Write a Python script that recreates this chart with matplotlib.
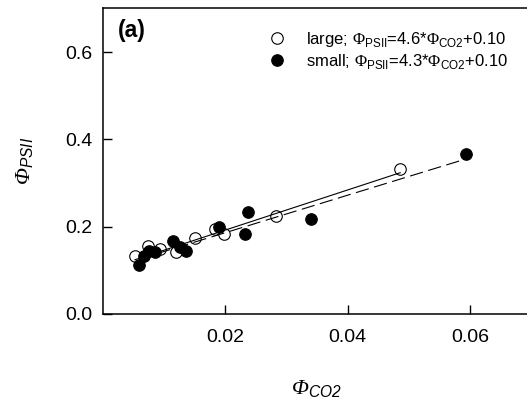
import numpy as np
import matplotlib
matplotlib.use("Agg")
import matplotlib.pyplot as plt
from matplotlib.lines import Line2D

plt.rcParams['font.family'] = ['Liberation Sans', 'DejaVu Sans']
plt.rcParams['mathtext.fontset'] = 'custom'
plt.rcParams['mathtext.rm'] = 'Liberation Serif'
plt.rcParams['mathtext.sf'] = 'Liberation Sans'
plt.rcParams['mathtext.cal'] = 'Liberation Serif:italic'
plt.rcParams['mathtext.tt'] = 'Liberation Sans:italic'

# large cells (open circles)
large_co2 = [0.0053, 0.0074, 0.0094, 0.0120, 0.0151, 0.0184, 0.0198, 0.0284, 0.0486]
large_psii = [0.133, 0.156, 0.150, 0.141, 0.175, 0.195, 0.183, 0.225, 0.332]
# small cells (filled circles)
small_co2 = [0.0060, 0.0067, 0.0076, 0.0086, 0.0115, 0.0127, 0.0137, 0.0191, 0.0238,
             0.0233, 0.0340, 0.0593]
small_psii = [0.112, 0.133, 0.144, 0.143, 0.167, 0.154, 0.144, 0.199, 0.233,
              0.183, 0.218, 0.366]
# fitted lines: slope, intercept
large_fit = (4.6, 0.10)
small_fit = (4.3, 0.10)

fig = plt.figure(figsize=(5.27, 4.05), dpi=100)
ax = fig.add_axes([0.1945, 0.2247, 0.8136, 0.7546])

ms = 8.3
ax.plot(large_co2, large_psii, 'o', ms=ms, mfc='white', mec='black', mew=0.8, zorder=2)
ax.plot(small_co2, small_psii, 'o', ms=ms, mfc='black', mec='black', mew=0.8, zorder=3)

xl = np.array([min(large_co2), max(large_co2)])
ax.plot(xl, large_fit[0] * xl + large_fit[1], '-', color='black', lw=0.8, zorder=4)
xs = np.array([min(small_co2), max(small_co2)])
ax.plot(xs, small_fit[0] * xs + small_fit[1], color='black', lw=0.8,
        dashes=(12, 5), zorder=4)

ax.set_xlim(0, 0.07)
ax.set_ylim(0, 0.7)
ax.set_xticks([0.02, 0.04, 0.06])
ax.set_xticklabels(['0.02', '0.04', '0.06'])
ax.set_yticks([0.0, 0.2, 0.4, 0.6])
ax.set_yticklabels(['0.0', '0.2', '0.4', '0.6'])
ax.tick_params(direction='in', length=6.5, width=1.0, labelsize=14)
ax.tick_params(axis='x', pad=11)
ax.tick_params(axis='y', pad=7)
for s in ['left', 'bottom', 'top']:
    ax.spines[s].set_linewidth(1.1)
ax.spines['right'].set_visible(False)

ax.set_xlabel(r'$\mathcal{\Phi}_{\mathtt{CO2}}$', fontsize=16, labelpad=23)
ax.set_ylabel(r'$\mathcal{\Phi}_{\mathtt{PSII}}$', fontsize=16, labelpad=21)

ax.text(0.035, 0.965, '(a)', transform=ax.transAxes, fontsize=16.5,
        fontweight='bold', va='top', ha='left')

handles = [
    Line2D([], [], ls='none', marker='o', ms=ms, mfc='white', mec='black', mew=0.8),
    Line2D([], [], ls='none', marker='o', ms=ms, mfc='black', mec='black', mew=0.8),
]
labels = [
    r'large; $\mathrm{\Phi}_{\mathsf{PSII}}$=4.6*$\mathrm{\Phi}_{\mathsf{CO2}}$+0.10',
    r'small; $\mathrm{\Phi}_{\mathsf{PSII}}$=4.3*$\mathrm{\Phi}_{\mathsf{CO2}}$+0.10',
]
ax.legend(handles, labels, loc='upper left', bbox_to_anchor=(0.388, 0.93),
          frameon=False, fontsize=12, handlelength=1.0, handletextpad=1.2,
          labelspacing=0.2, borderpad=0, borderaxespad=0)

fig.savefig('out.png', dpi=100)
